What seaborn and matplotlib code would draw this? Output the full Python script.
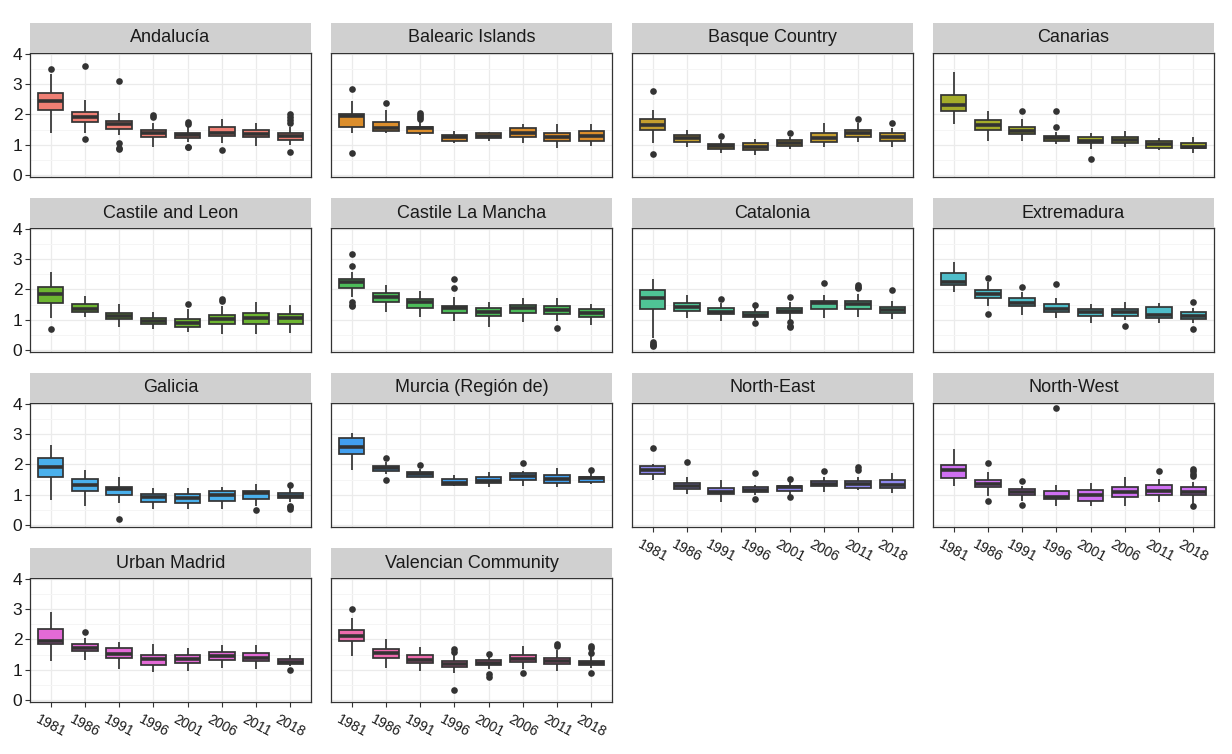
import numpy as np
import pandas as pd
import matplotlib.pyplot as plt
import seaborn as sns

# Box statistics (total fertility rate per region and year)
regions = ["Andalucía", "Balearic Islands", "Basque Country", "Canarias",
           "Castile and Leon", "Castile La Mancha", "Catalonia", "Extremadura",
           "Galicia", "Murcia (Región de)", "North-East", "North-West",
           "Urban Madrid", "Valencian Community"]
years = ["1981", "1986", "1991", "1996", "2001", "2006", "2011", "2018"]
colors = ["#EF7F74", "#DC8E2C", "#C49E2E", "#A4AC2A", "#6DB531", "#4CBB59", "#4FC395",
          "#4EBDC9", "#4AB0EC", "#429FEF", "#8E88EE", "#CF70F2", "#E36AD6", "#EE6BAD"]

whisker_lo = [
    [1.39, 1.39, 1.32, 0.93, 1.10, 1.04, 0.96, 0.99],
    [1.40, 1.37, 1.32, 1.06, 1.13, 1.06, 0.88, 0.96],
    [1.06, 0.93, 0.71, 0.67, 0.84, 0.91, 1.10, 0.93],
    [1.67, 1.13, 1.12, 1.01, 0.84, 0.91, 0.82, 0.71],
    [1.04, 1.08, 0.75, 0.68, 0.58, 0.52, 0.52, 0.57],
    [1.76, 1.24, 1.10, 0.97, 0.77, 0.93, 0.96, 0.82],
    [0.38, 1.04, 0.97, 0.98, 0.99, 1.07, 1.10, 1.01],
    [1.90, 1.46, 1.15, 1.04, 0.88, 0.99, 0.88, 0.88],
    [0.82, 0.62, 0.73, 0.53, 0.51, 0.53, 0.64, 0.75],
    [1.81, 1.68, 1.57, 1.27, 1.26, 1.27, 1.24, 1.35],
    [1.49, 1.02, 0.77, 1.00, 1.00, 1.10, 1.15, 1.04],
    [1.27, 0.97, 0.80, 0.64, 0.64, 0.64, 0.75, 0.69],
    [1.29, 1.31, 1.01, 0.93, 0.96, 1.07, 1.01, 1.12],
    [1.45, 1.07, 0.96, 0.88, 1.01, 1.03, 0.96, 1.04],
]
q1 = [
    [2.16, 1.75, 1.51, 1.24, 1.22, 1.28, 1.24, 1.15],
    [1.59, 1.45, 1.37, 1.13, 1.23, 1.24, 1.12, 1.13],
    [1.48, 1.10, 0.86, 0.83, 0.96, 1.10, 1.26, 1.12],
    [2.12, 1.50, 1.34, 1.13, 1.04, 1.04, 0.90, 0.88],
    [1.54, 1.24, 1.02, 0.86, 0.75, 0.86, 0.86, 0.86],
    [2.03, 1.59, 1.40, 1.21, 1.13, 1.21, 1.18, 1.10],
    [1.34, 1.30, 1.18, 1.08, 1.21, 1.35, 1.35, 1.23],
    [2.14, 1.73, 1.45, 1.24, 1.13, 1.13, 1.04, 1.02],
    [1.57, 1.13, 0.99, 0.77, 0.73, 0.80, 0.86, 0.88],
    [2.34, 1.79, 1.59, 1.32, 1.37, 1.49, 1.38, 1.43],
    [1.68, 1.19, 1.02, 1.10, 1.13, 1.30, 1.22, 1.21],
    [1.55, 1.24, 0.99, 0.84, 0.80, 0.93, 1.00, 0.99],
    [1.84, 1.62, 1.37, 1.15, 1.23, 1.32, 1.29, 1.20],
    [1.95, 1.40, 1.21, 1.09, 1.14, 1.25, 1.18, 1.14],
]
median = [
    [2.45, 1.92, 1.67, 1.37, 1.32, 1.40, 1.34, 1.28],
    [1.95, 1.54, 1.54, 1.24, 1.29, 1.40, 1.26, 1.28],
    [1.66, 1.21, 0.95, 0.93, 1.04, 1.23, 1.39, 1.26],
    [2.30, 1.64, 1.45, 1.21, 1.13, 1.15, 1.02, 0.93],
    [1.85, 1.35, 1.13, 0.97, 0.88, 1.01, 1.07, 1.07],
    [2.23, 1.76, 1.57, 1.37, 1.26, 1.40, 1.32, 1.21],
    [1.73, 1.43, 1.26, 1.15, 1.30, 1.54, 1.52, 1.32],
    [2.23, 1.85, 1.54, 1.35, 1.26, 1.26, 1.15, 1.12],
    [1.90, 1.32, 1.19, 0.91, 0.89, 1.00, 1.04, 0.97],
    [2.58, 1.88, 1.68, 1.38, 1.46, 1.63, 1.52, 1.55],
    [1.81, 1.27, 1.10, 1.15, 1.24, 1.35, 1.35, 1.32],
    [1.81, 1.35, 1.08, 0.93, 1.00, 1.10, 1.11, 1.08],
    [1.95, 1.73, 1.51, 1.34, 1.36, 1.45, 1.40, 1.26],
    [2.11, 1.56, 1.31, 1.20, 1.21, 1.34, 1.29, 1.21],
]
q3 = [
    [2.71, 2.08, 1.79, 1.47, 1.39, 1.57, 1.47, 1.37],
    [2.01, 1.75, 1.59, 1.32, 1.37, 1.54, 1.40, 1.45],
    [1.84, 1.31, 1.03, 1.05, 1.14, 1.37, 1.50, 1.37],
    [2.63, 1.81, 1.57, 1.30, 1.26, 1.24, 1.13, 1.06],
    [2.09, 1.51, 1.23, 1.07, 1.02, 1.15, 1.21, 1.18],
    [2.33, 1.89, 1.68, 1.45, 1.37, 1.48, 1.45, 1.34],
    [1.98, 1.54, 1.37, 1.26, 1.37, 1.62, 1.62, 1.43],
    [2.53, 1.98, 1.73, 1.51, 1.34, 1.35, 1.41, 1.24],
    [2.21, 1.52, 1.26, 1.02, 1.02, 1.11, 1.13, 1.05],
    [2.86, 1.96, 1.74, 1.52, 1.57, 1.71, 1.66, 1.59],
    [1.96, 1.38, 1.22, 1.26, 1.30, 1.44, 1.46, 1.48],
    [1.98, 1.49, 1.19, 1.11, 1.16, 1.26, 1.32, 1.26],
    [2.36, 1.86, 1.70, 1.48, 1.48, 1.59, 1.56, 1.34],
    [2.30, 1.69, 1.47, 1.29, 1.31, 1.47, 1.40, 1.29],
]
whisker_hi = [
    [3.35, 2.49, 2.03, 1.70, 1.61, 1.84, 1.72, 1.59],
    [2.43, 2.14, 1.75, 1.45, 1.43, 1.68, 1.68, 1.68],
    [2.16, 1.48, 1.15, 1.18, 1.24, 1.70, 1.70, 1.54],
    [3.40, 2.11, 1.84, 1.43, 1.37, 1.46, 1.21, 1.26],
    [2.58, 1.78, 1.51, 1.26, 1.35, 1.45, 1.57, 1.48],
    [2.58, 2.14, 1.95, 1.76, 1.59, 1.70, 1.70, 1.52],
    [2.34, 1.81, 1.54, 1.37, 1.57, 1.81, 1.85, 1.62],
    [2.91, 2.23, 1.92, 1.73, 1.51, 1.59, 1.54, 1.40],
    [2.65, 1.81, 1.57, 1.22, 1.22, 1.26, 1.35, 1.24],
    [3.03, 2.07, 1.85, 1.65, 1.76, 1.79, 1.88, 1.70],
    [2.01, 1.59, 1.48, 1.32, 1.46, 1.57, 1.59, 1.70],
    [2.51, 1.74, 1.30, 1.33, 1.37, 1.59, 1.52, 1.41],
    [2.90, 2.05, 1.92, 1.84, 1.70, 1.80, 1.80, 1.47],
    [2.71, 2.00, 1.76, 1.51, 1.45, 1.78, 1.65, 1.45],
]
outliers = [
    [[3.51], [3.59, 1.18], [3.10, 1.07, 0.90, 0.85], [1.97, 1.90], [1.75, 1.68, 0.93, 0.91], [0.82], [], [2.00, 1.90, 1.81, 1.72, 0.76]],
    [[2.83, 0.73], [2.39], [2.03, 1.97, 1.90, 1.85], [], [], [], [], []],
    [[2.76, 0.69], [], [1.30], [], [1.37], [], [1.84], [1.72]],
    [[], [], [2.11], [2.10, 1.57], [0.53], [], [], []],
    [[0.69], [], [], [], [1.51], [1.68, 1.62], [], []],
    [[3.18, 2.78, 1.59, 1.50, 1.45], [], [], [2.34, 2.03], [], [], [0.71], []],
    [[0.25, 0.20, 0.15, 0.12], [], [1.67], [1.48, 0.88], [1.76, 0.93, 0.80, 0.77], [2.20], [2.16, 2.08, 2.03], [1.98]],
    [[], [2.38, 1.18], [2.09], [2.18], [], [0.79], [], [1.59, 0.68]],
    [[], [], [0.18], [], [], [], [0.49], [1.33, 0.64, 0.58, 0.52]],
    [[], [2.21, 1.48], [1.98], [], [], [2.03], [], [1.82]],
    [[2.53], [2.07], [], [1.70, 0.86], [1.52, 0.91], [1.77], [1.90, 1.81], []],
    [[], [2.03, 0.80], [1.46, 0.66], [3.86], [], [], [1.79], [1.85, 1.79, 1.68, 1.60, 0.62]],
    [[], [2.24], [], [], [], [], [], [0.99]],
    [[3.02], [], [], [1.69, 1.59, 0.33], [1.53, 0.85, 0.76], [0.90], [1.84, 1.78], [1.78, 1.73, 1.56, 0.90]],
]

# long tables: five summary values per box give exact quartiles, outliers drawn apart
box_rows, out_rows = [], []
for r, region in enumerate(regions):
    for j, year in enumerate(years):
        for v in (whisker_lo[r][j], q1[r][j], median[r][j], q3[r][j], whisker_hi[r][j]):
            box_rows.append((region, year, v))
        for v in outliers[r][j]:
            out_rows.append((region, year, v))
boxes = pd.DataFrame(box_rows, columns=["region", "year", "tfr"])
fliers = pd.DataFrame(out_rows, columns=["region", "year", "tfr"])

sns.set_theme(style="white")
plt.rcParams['font.family'] = ['Liberation Sans', 'DejaVu Sans']

W, H = 1232, 754
fig = plt.figure(figsize=(W / 100, H / 100), dpi=100)

col_left = [30, 331, 632, 933]
strip_top = [23, 198, 373, 548]
pw, sh, ph = 281, 30, 124
dark = "#333333"

for i, region in enumerate(regions):
    row, col = divmod(i, 4)
    x0, y0 = col_left[col], strip_top[row]
    ax = fig.add_axes([x0 / W, 1 - (y0 + sh + ph) / H, pw / W, ph / H])
    sax = fig.add_axes([x0 / W, 1 - (y0 + sh) / H, pw / W, sh / H])

    sns.boxplot(data=boxes[boxes.region == region], x="year", y="tfr", order=years,
                color=colors[i], saturation=1, width=0.75, whis=np.inf,
                showcaps=False, linewidth=1.25, linecolor=dark, fliersize=0,
                medianprops=dict(linewidth=2.6, color=dark), ax=ax)
    sub = fliers[fliers.region == region]
    if len(sub):
        sns.stripplot(data=sub, x="year", y="tfr", order=years, jitter=False,
                      color=dark, size=4.8, linewidth=0, ax=ax, zorder=5)

    ax.set_xlim(-0.6, 7.6)
    ax.set_ylim(-0.07, 4.03)
    ax.set_yticks([0, 1, 2, 3, 4])
    ax.set_yticks([0.5, 1.5, 2.5, 3.5], minor=True)
    ax.set_axisbelow(True)
    ax.grid(True, which="major", color="#EBEBEB", linewidth=0.9)
    ax.grid(True, which="minor", axis="y", color="#F5F5F5", linewidth=0.7)
    ax.set_xlabel("")
    ax.set_ylabel("")
    for sp in ax.spines.values():
        sp.set_visible(True)
        sp.set_color(dark)
        sp.set_linewidth(0.9)
    ax.tick_params(which="minor", length=0)

    if col == 0:
        ax.tick_params(axis="y", which="major", left=True, length=3.5, width=0.8,
                       color=dark, labelsize=12.5, pad=2, labelcolor="#1A1A1A")
    else:
        ax.tick_params(axis="y", left=False, labelleft=False)

    if i >= 10:
        ax.tick_params(axis="x", bottom=True, length=3.5, width=0.8, color=dark, pad=4)
        ax.set_xticks(range(len(years)))
        ax.set_xticklabels(years, rotation=-28, ha="center", fontsize=10.2, color="#1A1A1A")
    else:
        ax.tick_params(axis="x", bottom=False, labelbottom=False)

    sax.set_facecolor("#D0D0D0")
    sax.set_xticks([])
    sax.set_yticks([])
    for sp in sax.spines.values():
        sp.set_visible(False)
    sax.text(0.5, 0.5, region, ha="center", va="center", fontsize=13,
             color="#1A1A1A", transform=sax.transAxes)

fig.savefig("out.png", dpi=100)
